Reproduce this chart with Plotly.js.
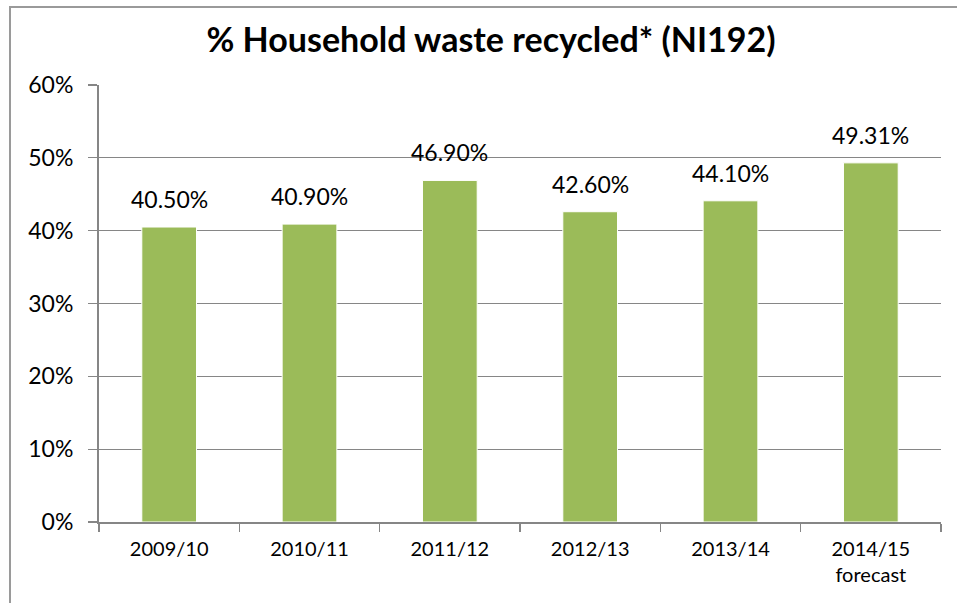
<!DOCTYPE html>
<html>
<head>
<meta charset="utf-8">
<script src="https://cdn.plot.ly/plotly-3.0.1.min.js"></script>
<style>
  html, body { margin: 0; padding: 0; width: 957px; height: 603px; overflow: hidden; background: #fff; }
  #frame { position: absolute; left: 9px; top: 6px; width: 1100px; height: 800px; border: 2px solid #9a9a9a; box-sizing: border-box; }
  #chart { position: absolute; left: 0; top: 0; width: 957px; height: 603px; }
</style>
</head>
<body>
<div id="frame"></div>
<div id="chart"></div>
<script>
const categories = ["2009/10", "2010/11", "2011/12", "2012/13", "2013/14", "2014/15<br>forecast"];
const recycledPct = [40.5, 40.9, 46.9, 42.6, 44.1, 49.31];
const yTickValues = [0, 10, 20, 30, 40, 50, 60];
const yTickLabels = ["0%", "10%", "20%", "30%", "40%", "50%", "60%"];
const chartTitle = "% Household waste recycled* (NI192)";

const FONT = "Lato, 'Liberation Sans', Arial, sans-serif";
const gray = "#868686";

const trace = {
  type: "bar",
  x: categories,
  y: recycledPct,
  marker: { color: "#9bbb59", line: { color: "#ffffff", width: 1 } },
  hoverinfo: "skip"
};

const annotations = categories.map((c, i) => ({
  x: c, y: recycledPct[i], xref: "x", yref: "y",
  text: recycledPct[i].toFixed(2) + "%",
  showarrow: false, yanchor: "bottom", yshift: 12,
  font: { family: FONT, size: 23, color: "#000" }
}));

const layout = {
  width: 957, height: 603,
  paper_bgcolor: "rgba(0,0,0,0)", plot_bgcolor: "rgba(0,0,0,0)",
  margin: { l: 99, r: 16, t: 85, b: 81 },
  title: {
    text: "<b>" + chartTitle + "</b>",
    x: 491 / 957, xanchor: "center", xref: "container",
    y: 1 - 40 / 603, yanchor: "middle", yref: "container",
    font: { family: FONT, size: 34, color: "#000", weight: 900 }
  },
  bargap: 0.61,
  showlegend: false,
  xaxis: {
    type: "category",
    showline: true, linecolor: gray, linewidth: 2,
    ticks: "outside", tickson: "boundaries", ticklen: 8, tickcolor: gray, tickwidth: 1.5,
    ticklabelstandoff: 8,
    tickfont: { family: FONT, size: 20, color: "#000" },
    showgrid: false, zeroline: false, fixedrange: true
  },
  yaxis: {
    range: [0, 60],
    tickvals: yTickValues, ticktext: yTickLabels,
    showgrid: true, gridcolor: gray, gridwidth: 1.3,
    showline: true, linecolor: gray, linewidth: 2,
    ticks: "outside", ticklen: 9, tickcolor: gray, tickwidth: 1.3,
    ticklabelstandoff: 10,
    tickfont: { family: FONT, size: 23, color: "#000" },
    zeroline: false, fixedrange: true
  },
  annotations: annotations
};

Plotly.newPlot("chart", [trace], layout, { displayModeBar: false, staticPlot: true });
</script>
</body>
</html>
